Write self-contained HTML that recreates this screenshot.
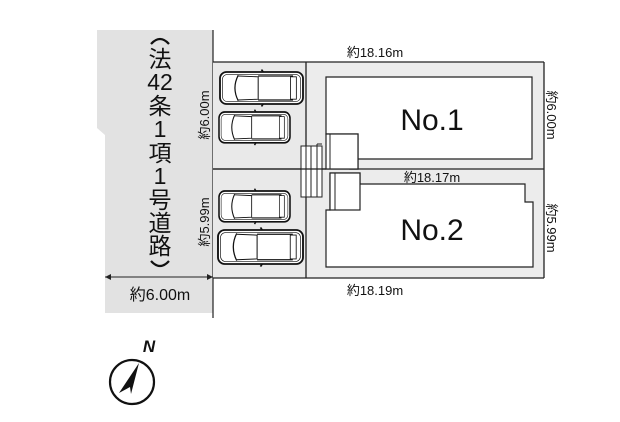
<!DOCTYPE html>
<html><head><meta charset="utf-8"><style>
html,body{margin:0;padding:0;background:#fff;}
svg{display:block;}
text{font-family:"Liberation Sans","Noto Sans CJK JP",sans-serif;fill:#111;}
</style></head><body>
<svg width="620" height="422" viewBox="0 0 620 422" xmlns="http://www.w3.org/2000/svg">
<defs>
<g id="car" fill="none" stroke="#111">
  <rect x="0" y="0" width="100" height="40" rx="8" stroke-width="2.2" fill="#fff"/>
  <rect x="3" y="3" width="94" height="34" rx="6" stroke-width="0.8"/>
  <path d="M22 4 Q14 20 22 36" stroke-width="1.5"/>
  <path d="M22 5 L46 6 L46 34 L22 35" stroke-width="1.2"/>
  <path d="M85 6 L92 6 L92 34 L85 34 Z" stroke-width="1"/>
  <line x1="46" y1="5" x2="88" y2="5" stroke-width="1.5"/>
  <line x1="46" y1="35" x2="88" y2="35" stroke-width="1.5"/>
  <line x1="52" y1="0" x2="50" y2="-3" stroke-width="2"/>
  <line x1="52" y1="40" x2="50" y2="43" stroke-width="2"/>
</g>
</defs>
<polygon points="97,30 213,30 213,313 105,313 105,135 97,128" fill="#e2e2e2"/>
<line x1="213" y1="30" x2="213" y2="318" stroke="#222" stroke-width="1.2"/>
<rect x="213" y="62" width="93" height="216" fill="#e9e9e9"/>
<rect x="306" y="62" width="238" height="216" fill="#ececec"/>
<g fill="none" stroke="#222" stroke-width="1.3">
  <line x1="213" y1="62" x2="544" y2="62"/>
  <line x1="213" y1="169" x2="544" y2="169"/>
  <line x1="213" y1="278" x2="544" y2="278"/>
  <line x1="544" y1="62" x2="544" y2="278"/>
  <line x1="306" y1="62" x2="306" y2="278"/>
</g>
<path d="M326 77 H532 V159 H350 V169 H358 V134 H326 Z" fill="#fff" stroke="#222" stroke-width="1.2"/>
<rect x="326" y="134" width="32" height="35" fill="#fff" stroke="#222" stroke-width="1.2"/>
<line x1="330" y1="134" x2="330" y2="169" stroke="#222"/>
<path d="M326 210 H330 V173 H360 V184 H525 V202 H533 V267 H326 Z" fill="#fff" stroke="#222" stroke-width="1.2"/>
<rect x="330" y="173" width="30" height="37" fill="#fff" stroke="#222" stroke-width="1.2"/>
<line x1="335" y1="173" x2="335" y2="210" stroke="#222"/>
<g fill="#fff" stroke="#222" stroke-width="1">
  <rect x="301" y="146" width="21" height="51"/>
  <line x1="306" y1="146" x2="306" y2="197"/>
  <line x1="311" y1="146" x2="311" y2="197"/>
  <line x1="317" y1="144" x2="317" y2="197"/>
  <line x1="317" y1="144" x2="322" y2="144"/>
</g>
<line x1="213" y1="169" x2="326" y2="169" stroke="#222" stroke-width="1.3"/>
<use href="#car" transform="translate(220,72) scale(0.83,0.8)"/>
<use href="#car" transform="translate(219,112) scale(0.71,0.77)"/>
<use href="#car" transform="translate(219,191) scale(0.71,0.77)"/>
<use href="#car" transform="translate(218,230) scale(0.85,0.85)"/>
<text x="432" y="130" font-size="30" text-anchor="middle">No.1</text>
<text x="432" y="240" font-size="30" text-anchor="middle">No.2</text>
<path d="M151 44 Q160 34 169 44" fill="none" stroke="#111" stroke-width="2.2"/>
<g font-size="23" text-anchor="middle">
  <text x="160" y="67">法</text>
  <text x="160" y="90">42</text>
  <text x="160" y="114">条</text>
  <text x="160" y="137">1</text>
  <text x="160" y="161">項</text>
  <text x="160" y="184">1</text>
  <text x="160" y="208">号</text>
  <text x="160" y="231">道</text>
  <text x="160" y="254">路</text>
</g>
<path d="M151 261 Q160 271 169 261" fill="none" stroke="#111" stroke-width="2.2"/>
<line x1="105" y1="277" x2="213" y2="277" stroke="#222" stroke-width="1"/>
<polygon points="105,277 111,274 111,280" fill="#222"/>
<polygon points="213,277 207,274 207,280" fill="#222"/>
<text x="160" y="300" font-size="16" text-anchor="middle">約6.00m</text>
<g font-size="13" text-anchor="middle">
  <text x="375" y="57">約18.16m</text>
  <text x="432" y="182">約18.17m</text>
  <text x="375" y="295">約18.19m</text>
  <text transform="translate(547,115) rotate(90)">約6.00m</text>
  <text transform="translate(547,228) rotate(90)">約5.99m</text>
  <text transform="translate(209,115) rotate(-90)">約6.00m</text>
  <text transform="translate(209,222) rotate(-90)">約5.99m</text>
</g>
<circle cx="132" cy="382" r="22" fill="none" stroke="#111" stroke-width="2.2"/>
<polygon points="139,363 119,393 130,387 131,394" fill="#111"/>
<text x="149" y="352" font-size="17" font-style="italic" font-weight="bold" text-anchor="middle">N</text>
</svg>
</body></html>
